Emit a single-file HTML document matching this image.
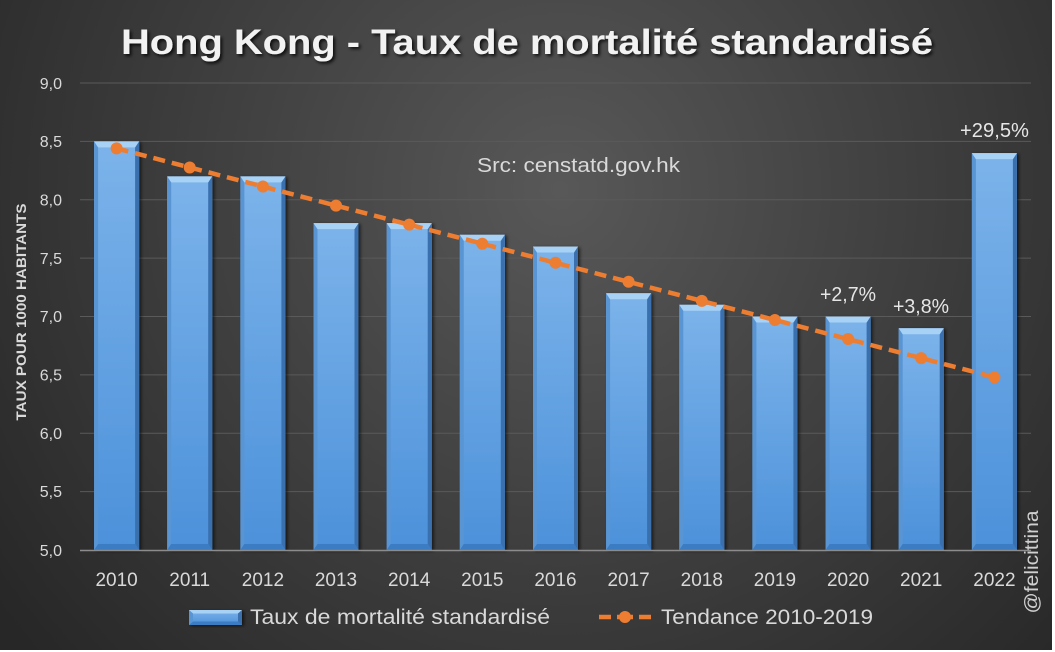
<!DOCTYPE html>
<html><head><meta charset="utf-8"><style>
html,body{margin:0;padding:0;background:#fff;}
svg{display:block;}
text{font-family:"Liberation Sans",sans-serif;}
</style></head><body>
<svg width="1055" height="652" viewBox="0 0 1055 652" xmlns="http://www.w3.org/2000/svg">
<defs>
<radialGradient id="bgg" gradientUnits="userSpaceOnUse" cx="560" cy="190" r="700">
<stop offset="0" stop-color="#585858"/>
<stop offset="0.4" stop-color="#444444"/>
<stop offset="1" stop-color="#272727"/>
</radialGradient>
<linearGradient id="bar" x1="0" y1="0" x2="0" y2="1">
<stop offset="0" stop-color="#7cb3ea"/>
<stop offset="1" stop-color="#4c91da"/>
</linearGradient>
<filter id="sh" x="-20%" y="-20%" width="140%" height="140%">
<feDropShadow dx="2" dy="1" stdDeviation="1.5" flood-color="#000" flood-opacity="0.6"/>
</filter>
<filter id="tsh" x="-5%" y="-30%" width="110%" height="160%">
<feDropShadow dx="2" dy="2" stdDeviation="1.5" flood-color="#000" flood-opacity="0.8"/>
</filter>
</defs>
<rect x="0" y="0" width="1055" height="652" fill="#ffffff"/>
<rect x="0" y="0" width="1052" height="650" fill="url(#bgg)"/>

<!-- gridlines -->
<g stroke="#5a5a5a" stroke-width="1">
<line x1="80" y1="83" x2="1031" y2="83"/>
<line x1="80" y1="141.4" x2="1031" y2="141.4"/>
<line x1="80" y1="199.75" x2="1031" y2="199.75"/>
<line x1="80" y1="258.1" x2="1031" y2="258.1"/>
<line x1="80" y1="316.5" x2="1031" y2="316.5"/>
<line x1="80" y1="374.9" x2="1031" y2="374.9"/>
<line x1="80" y1="433.25" x2="1031" y2="433.25"/>
<line x1="80" y1="491.6" x2="1031" y2="491.6"/>
</g>

<!-- y labels -->
<g fill="#d9d9d9" font-size="16" text-anchor="end">
<text x="62" y="89">9,0</text>
<text x="62" y="147">8,5</text>
<text x="62" y="205.5">8,0</text>
<text x="62" y="264">7,5</text>
<text x="62" y="322">7,0</text>
<text x="62" y="380.5">6,5</text>
<text x="62" y="439">6,0</text>
<text x="62" y="497">5,5</text>
<text x="62" y="556">5,0</text>
</g>

<!-- bars -->
<g filter="url(#sh)">
<g transform="translate(94.1,141.4)"><rect width="45" height="408.6" fill="url(#bar)"/><polygon points="0,0 4,6 4,402.6 0,408.6" fill="#5a95d3"/><polygon points="45,0 41,6 41,402.6 45,408.6" fill="#3a70ae"/><polygon points="0,0 45,0 41,6 4,6" fill="#a8d1f6"/><polygon points="4,402.6 41,402.6 45,408.6 0,408.6" fill="#3b7bc3"/></g>
<g transform="translate(167.2,176.4)"><rect width="45" height="373.6" fill="url(#bar)"/><polygon points="0,0 4,6 4,367.6 0,373.6" fill="#5a95d3"/><polygon points="45,0 41,6 41,367.6 45,373.6" fill="#3a70ae"/><polygon points="0,0 45,0 41,6 4,6" fill="#a8d1f6"/><polygon points="4,367.6 41,367.6 45,373.6 0,373.6" fill="#3b7bc3"/></g>
<g transform="translate(240.4,176.4)"><rect width="45" height="373.6" fill="url(#bar)"/><polygon points="0,0 4,6 4,367.6 0,373.6" fill="#5a95d3"/><polygon points="45,0 41,6 41,367.6 45,373.6" fill="#3a70ae"/><polygon points="0,0 45,0 41,6 4,6" fill="#a8d1f6"/><polygon points="4,367.6 41,367.6 45,373.6 0,373.6" fill="#3b7bc3"/></g>
<g transform="translate(313.5,223.1)"><rect width="45" height="326.9" fill="url(#bar)"/><polygon points="0,0 4,6 4,320.9 0,326.9" fill="#5a95d3"/><polygon points="45,0 41,6 41,320.9 45,326.9" fill="#3a70ae"/><polygon points="0,0 45,0 41,6 4,6" fill="#a8d1f6"/><polygon points="4,320.9 41,320.9 45,326.9 0,326.9" fill="#3b7bc3"/></g>
<g transform="translate(386.7,223.1)"><rect width="45" height="326.9" fill="url(#bar)"/><polygon points="0,0 4,6 4,320.9 0,326.9" fill="#5a95d3"/><polygon points="45,0 41,6 41,320.9 45,326.9" fill="#3a70ae"/><polygon points="0,0 45,0 41,6 4,6" fill="#a8d1f6"/><polygon points="4,320.9 41,320.9 45,326.9 0,326.9" fill="#3b7bc3"/></g>
<g transform="translate(459.8,234.8)"><rect width="45" height="315.2" fill="url(#bar)"/><polygon points="0,0 4,6 4,309.2 0,315.2" fill="#5a95d3"/><polygon points="45,0 41,6 41,309.2 45,315.2" fill="#3a70ae"/><polygon points="0,0 45,0 41,6 4,6" fill="#a8d1f6"/><polygon points="4,309.2 41,309.2 45,315.2 0,315.2" fill="#3b7bc3"/></g>
<g transform="translate(533.0,246.5)"><rect width="45" height="303.5" fill="url(#bar)"/><polygon points="0,0 4,6 4,297.5 0,303.5" fill="#5a95d3"/><polygon points="45,0 41,6 41,297.5 45,303.5" fill="#3a70ae"/><polygon points="0,0 45,0 41,6 4,6" fill="#a8d1f6"/><polygon points="4,297.5 41,297.5 45,303.5 0,303.5" fill="#3b7bc3"/></g>
<g transform="translate(606.1,293.2)"><rect width="45" height="256.8" fill="url(#bar)"/><polygon points="0,0 4,6 4,250.8 0,256.8" fill="#5a95d3"/><polygon points="45,0 41,6 41,250.8 45,256.8" fill="#3a70ae"/><polygon points="0,0 45,0 41,6 4,6" fill="#a8d1f6"/><polygon points="4,250.8 41,250.8 45,256.8 0,256.8" fill="#3b7bc3"/></g>
<g transform="translate(679.3,304.8)"><rect width="45" height="245.2" fill="url(#bar)"/><polygon points="0,0 4,6 4,239.2 0,245.2" fill="#5a95d3"/><polygon points="45,0 41,6 41,239.2 45,245.2" fill="#3a70ae"/><polygon points="0,0 45,0 41,6 4,6" fill="#a8d1f6"/><polygon points="4,239.2 41,239.2 45,245.2 0,245.2" fill="#3b7bc3"/></g>
<g transform="translate(752.4,316.5)"><rect width="45" height="233.5" fill="url(#bar)"/><polygon points="0,0 4,6 4,227.5 0,233.5" fill="#5a95d3"/><polygon points="45,0 41,6 41,227.5 45,233.5" fill="#3a70ae"/><polygon points="0,0 45,0 41,6 4,6" fill="#a8d1f6"/><polygon points="4,227.5 41,227.5 45,233.5 0,233.5" fill="#3b7bc3"/></g>
<g transform="translate(825.6,316.5)"><rect width="45" height="233.5" fill="url(#bar)"/><polygon points="0,0 4,6 4,227.5 0,233.5" fill="#5a95d3"/><polygon points="45,0 41,6 41,227.5 45,233.5" fill="#3a70ae"/><polygon points="0,0 45,0 41,6 4,6" fill="#a8d1f6"/><polygon points="4,227.5 41,227.5 45,233.5 0,233.5" fill="#3b7bc3"/></g>
<g transform="translate(898.7,328.2)"><rect width="45" height="221.8" fill="url(#bar)"/><polygon points="0,0 4,6 4,215.8 0,221.8" fill="#5a95d3"/><polygon points="45,0 41,6 41,215.8 45,221.8" fill="#3a70ae"/><polygon points="0,0 45,0 41,6 4,6" fill="#a8d1f6"/><polygon points="4,215.8 41,215.8 45,221.8 0,221.8" fill="#3b7bc3"/></g>
<g transform="translate(971.9,153.1)"><rect width="45" height="396.9" fill="url(#bar)"/><polygon points="0,0 4,6 4,390.9 0,396.9" fill="#5a95d3"/><polygon points="45,0 41,6 41,390.9 45,396.9" fill="#3a70ae"/><polygon points="0,0 45,0 41,6 4,6" fill="#a8d1f6"/><polygon points="4,390.9 41,390.9 45,396.9 0,396.9" fill="#3b7bc3"/></g>
</g>

<!-- axis line -->
<line x1="80" y1="550.5" x2="1031" y2="550.5" stroke="#8c8c8c" stroke-width="1.5"/>

<!-- trend line -->
<polyline points="116.6,148.4 994.4,377.2" fill="none" stroke="#ED7D31" stroke-width="4.5" stroke-dasharray="12,7"/>
<g fill="#ED7D31">
<circle cx="116.6" cy="148.4" r="6"/>
<circle cx="189.7" cy="167.5" r="6"/>
<circle cx="262.9" cy="186.5" r="6"/>
<circle cx="336.0" cy="205.6" r="6"/>
<circle cx="409.2" cy="224.6" r="6"/>
<circle cx="482.3" cy="243.7" r="6"/>
<circle cx="555.5" cy="262.8" r="6"/>
<circle cx="628.6" cy="281.8" r="6"/>
<circle cx="701.8" cy="300.9" r="6"/>
<circle cx="774.9" cy="320.0" r="6"/>
<circle cx="848.1" cy="339.0" r="6"/>
<circle cx="921.2" cy="358.1" r="6"/>
<circle cx="994.4" cy="377.2" r="6"/>
</g>

<!-- x labels -->
<g fill="#d9d9d9" font-size="19" text-anchor="middle">
<text x="116.6" y="586">2010</text>
<text x="189.7" y="586">2011</text>
<text x="262.9" y="586">2012</text>
<text x="336.0" y="586">2013</text>
<text x="409.2" y="586">2014</text>
<text x="482.3" y="586">2015</text>
<text x="555.5" y="586">2016</text>
<text x="628.6" y="586">2017</text>
<text x="701.8" y="586">2018</text>
<text x="774.9" y="586">2019</text>
<text x="848.1" y="586">2020</text>
<text x="921.2" y="586">2021</text>
<text x="994.4" y="586">2022</text>
</g>

<!-- title -->
<text x="121" y="54" font-size="35" font-weight="bold" fill="#f2f2f2" textLength="812" lengthAdjust="spacingAndGlyphs" filter="url(#tsh)">Hong Kong - Taux de mortalité standardisé</text>

<!-- src -->
<text x="477" y="172" font-size="20" fill="#d9d9d9" textLength="203" lengthAdjust="spacingAndGlyphs">Src: censtatd.gov.hk</text>

<!-- annotations -->
<g fill="#e6e6e6" font-size="20">
<text x="960" y="137" textLength="69" lengthAdjust="spacingAndGlyphs">+29,5%</text>
<text x="820" y="301" textLength="56" lengthAdjust="spacingAndGlyphs">+2,7%</text>
<text x="893" y="313" textLength="56" lengthAdjust="spacingAndGlyphs">+3,8%</text>
</g>

<!-- y axis title -->
<text transform="translate(26,312) rotate(-90)" text-anchor="middle" font-size="13.5" font-weight="bold" fill="#d9d9d9" textLength="217" lengthAdjust="spacingAndGlyphs">TAUX POUR 1000 HABITANTS</text>

<!-- watermark -->
<text transform="translate(1038,562) rotate(-90)" text-anchor="middle" font-size="19" fill="#d0d0d0" textLength="103" lengthAdjust="spacingAndGlyphs">@felicittina</text>

<!-- legend -->
<g filter="url(#sh)">
<rect x="189" y="610" width="53" height="15" fill="url(#bar)"/>
<polygon points="189,610 242,610 238,613.5 193,613.5" fill="#a8d1f6"/>
<polygon points="193,621.5 238,621.5 242,625 189,625" fill="#3b7bc3"/>
<polygon points="189,610 193,613.5 193,621.5 189,625" fill="#5a95d3"/>
<polygon points="242,610 238,613.5 238,621.5 242,625" fill="#3a70ae"/>
</g>
<text x="250" y="624" font-size="21" fill="#d9d9d9" textLength="300" lengthAdjust="spacingAndGlyphs">Taux de mortalité standardisé</text>
<line x1="599" y1="617" x2="611" y2="617" stroke="#ED7D31" stroke-width="4.5"/>
<line x1="639" y1="617" x2="651" y2="617" stroke="#ED7D31" stroke-width="4.5"/>
<line x1="617" y1="617" x2="633" y2="617" stroke="#ED7D31" stroke-width="4.5"/>
<circle cx="625" cy="617" r="6" fill="#ED7D31"/>
<text x="661" y="624" font-size="21" fill="#d9d9d9" textLength="212" lengthAdjust="spacingAndGlyphs">Tendance 2010-2019</text>
</svg>
</body></html>
